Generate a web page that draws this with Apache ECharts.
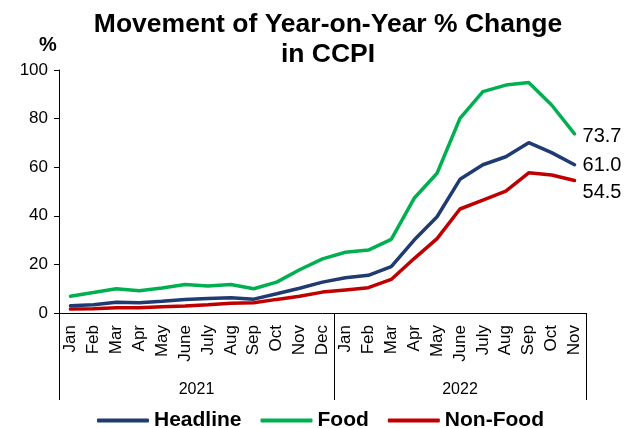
<!DOCTYPE html>
<html>
<head>
<meta charset="utf-8">
<script src="https://cdn.jsdelivr.net/npm/echarts@6/dist/echarts.min.js"></script>
<style>
    html, body { margin: 0; padding: 0; background: #fff; }
    #chart { width: 635px; height: 428px; }
</style>
</head>
<body>
<div id="chart"></div>
<script>
let months2021 = ['Jan', 'Feb', 'Mar', 'Apr', 'May', 'June', 'July', 'Aug', 'Sep', 'Oct', 'Nov', 'Dec'];
let months2022 = ['Jan', 'Feb', 'Mar', 'Apr', 'May', 'June', 'July', 'Aug', 'Sep', 'Oct', 'Nov'];
let years = ['2021', '2022'];
let yTicks = [0, 20, 40, 60, 80, 100];

let headline = [3.0, 3.4, 4.4, 4.2, 4.8, 5.6, 6.0, 6.3, 5.7, 7.9, 10.2, 12.7,
    14.5, 15.5, 19.1, 30.0, 39.6, 55.0, 61.0, 64.3, 70.1, 66.0, 61.0];
let food = [6.9, 8.4, 10.0, 9.2, 10.3, 11.7, 11.1, 11.7, 10.0, 12.7, 17.8, 22.3,
    25.0, 25.9, 30.3, 47.2, 57.5, 80.1, 91.1, 93.8, 94.9, 85.6, 73.7];
let nonFood = [1.6, 1.7, 2.2, 2.2, 2.6, 2.9, 3.4, 4.0, 4.2, 5.6, 6.9, 8.6,
    9.5, 10.4, 13.8, 22.4, 30.6, 42.8, 46.5, 50.2, 57.7, 56.8, 54.5];

let categories = months2021.concat(months2022);
let font = 'Arial, "Liberation Sans", sans-serif';

let chart = echarts.init(document.getElementById('chart'));

function lineSeries(name, data, color, dy) {
    return {
        name: name,
        type: 'line',
        data: data,
        symbol: 'none',
        lineStyle: { width: 3.5, color: color, cap: 'round' },
        itemStyle: { color: color },
        endLabel: {
            show: true,
            formatter: p => p.value.toFixed(1),
            color: '#000',
            fontSize: 20,
            fontFamily: font,
            distance: 8,
            offset: [0, dy]
        }
    };
}

chart.setOption({
    animation: false,
    title: {
        text: 'Movement of Year-on-Year % Change\nin CCPI',
        left: 328,
        top: 10,
        textAlign: 'center',
        padding: 0,
        textStyle: {
            fontFamily: font,
            fontSize: 26.5,
            fontWeight: 'bold',
            lineHeight: 30,
            color: '#000'
        }
    },
    legend: {
        data: ['Headline', 'Food', 'Non-Food'],
        left: 97,
        top: 410,
        padding: 0,
        icon: 'roundRect',
        itemWidth: 52,
        itemHeight: 4,
        itemGap: 19,
        textStyle: {
            fontFamily: font,
            fontSize: 21,
            fontWeight: 'bold',
            lineHeight: 20,
            color: '#000'
        }
    },
    grid: { left: 59, right: 49, top: 70, bottom: 115 },
    xAxis: [{
        type: 'category',
        data: categories,
        boundaryGap: true,
        axisLine: { lineStyle: { color: '#000', width: 1 } },
        axisTick: { show: false },
        axisLabel: {
            interval: 0,
            rotate: 90,
            margin: 12,
            color: '#000',
            fontSize: 17,
            fontFamily: font
        }
    }, {
        // year grouping: separators at 0, 12, 23 and labels centred in each block
        type: 'value',
        position: 'bottom',
        min: 0,
        max: categories.length,
        axisLine: { show: false },
        splitLine: { show: false },
        axisTick: {
            show: true,
            customValues: [0, months2021.length, categories.length],
            length: 87,
            lineStyle: { color: '#000', width: 1 }
        },
        axisLabel: {
            customValues: [months2021.length / 2, months2021.length + months2022.length / 2],
            formatter: v => v < months2021.length ? years[0] : years[1],
            margin: 69,
            color: '#000',
            fontSize: 16,
            fontFamily: font
        }
    }],
    yAxis: {
        type: 'value',
        min: yTicks[0],
        max: yTicks[yTicks.length - 1],
        interval: 20,
        name: '%',
        nameLocation: 'end',
        nameGap: 15,
        nameTextStyle: {
            fontFamily: font,
            fontSize: 20,
            fontWeight: 'bold',
            color: '#000',
            padding: [0, 22, 0, 0]
        },
        axisLine: { show: true, lineStyle: { color: '#000', width: 1 } },
        axisTick: { show: true, length: 5, lineStyle: { color: '#000' } },
        splitLine: { show: false },
        axisLabel: {
            margin: 11,
            color: '#000',
            fontSize: 17,
            fontFamily: font
        }
    },
    series: [
        lineSeries('Headline', headline, '#203A72', 1),
        lineSeries('Food', food, '#00B050', 3),
        lineSeries('Non-Food', nonFood, '#C00000', 12)
    ]
});
</script>
</body>
</html>
